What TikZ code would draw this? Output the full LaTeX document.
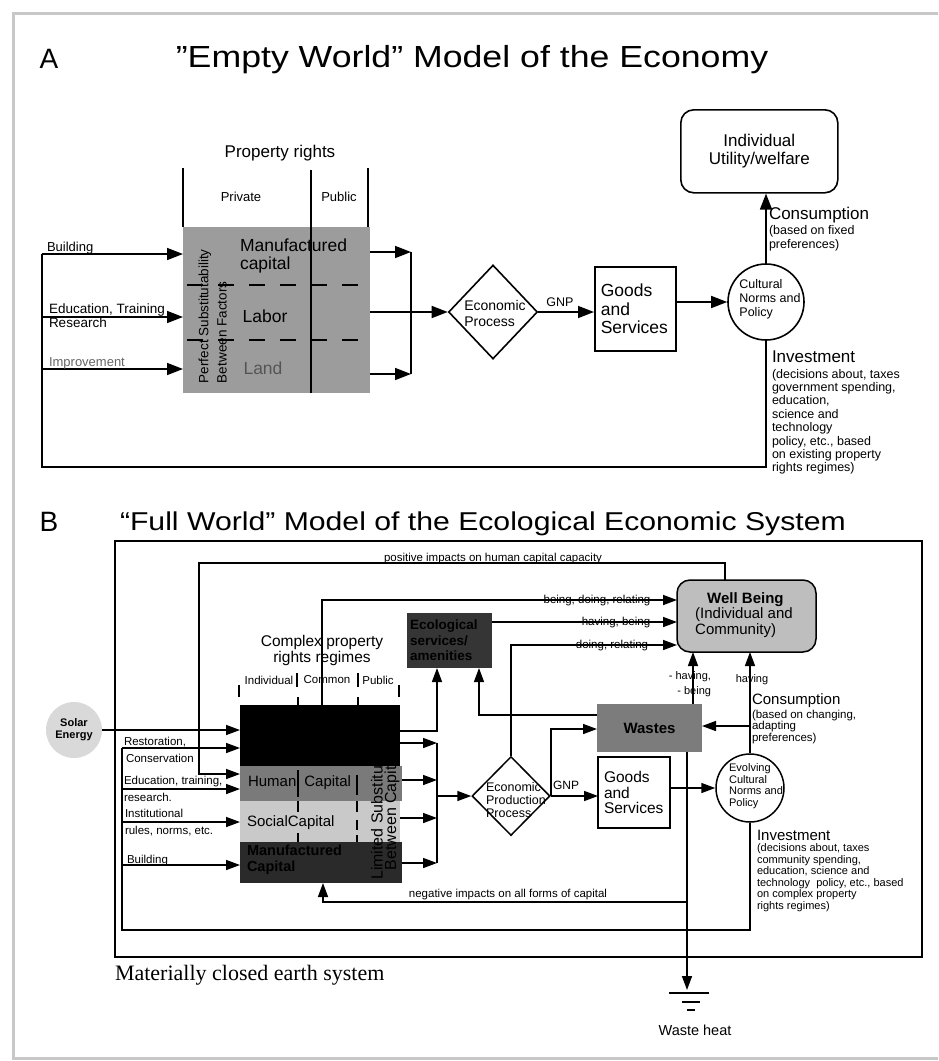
\documentclass[tikz,border=0pt]{standalone}
\usepackage{fontspec}
\setmainfont{Liberation Sans}
\newfontfamily\serifA{Liberation Serif}
\usetikzlibrary{arrows.meta,shapes.geometric,calc}
\newcommand\fsz[2]{\fontsize{#1}{#2}\selectfont}
\definecolor{frameG}{HTML}{C8C8C8}
\definecolor{boxA}{HTML}{9C9C9C}
\definecolor{landG}{HTML}{555555}
\definecolor{impG}{HTML}{666666}
\definecolor{humG}{HTML}{7A7A7A}
\definecolor{socG}{HTML}{C9C9C9}
\definecolor{manG}{HTML}{2A2A2A}
\definecolor{ecoG}{HTML}{353535}
\definecolor{wasteG}{HTML}{7C7C7C}
\definecolor{wbG}{HTML}{BEBEBE}
\definecolor{solarG}{HTML}{D9D9D9}
\begin{document}
\begin{tikzpicture}[x=1pt,y=-1pt,
  lnA/.style={line width=1.6pt},
  arA/.style={line width=1.6pt,-{Triangle[length=16pt,width=12pt]}},
  lnB/.style={line width=1.5pt},
  arB/.style={line width=1.5pt,-{Triangle[length=14pt,width=10pt]}},
  txt/.style={inner sep=0pt,outer sep=0pt},
  blk/.style={anchor=north west,inner sep=0pt,outer sep=0pt}]
\useasboundingbox (0,0) rectangle (938,1061);
\fill[white] (0,0) rectangle (938,1061);
\draw[frameG,line width=3pt] (938,13) -- (13,13) -- (13,1058) -- (938,1058);

%% ---------------- Panel A ----------------
\node[txt,anchor=base,font=\fsz{28}{30}] (A) at (49,68) {A};
\node[txt,anchor=base,font=\fsz{30.5}{32}] (Atitle) at (472,67) {\scalebox{1.17}[1]{"Empty World" Model of the Economy}};
\node[txt,font=\fsz{17}{19}] (proprights) at (280,153) {Property rights};
\node[txt,font=\fsz{13}{15}] (private) at (241,197) {Private};
\node[txt,font=\fsz{13}{15}] (public) at (339,197) {Public};
\node[blk,fill=boxA,minimum width=187pt,minimum height=166pt] (Abox) at (183,227) {};
\draw[lnA] (183,168) -- (Abox.north west);
\draw[lnA] (368,168) -- (368,227);
\draw[lnA] (311,170) -- (311,393);
\draw[line width=2pt,dash pattern=on 16pt off 15pt] (187,285) -- (370,285);
\draw[line width=2pt,dash pattern=on 16pt off 15pt] (187,340) -- (370,340);
\node[txt,anchor=west,align=left,font=\fsz{17.5}{18}] (mancap) at (240,256) {Manufactured\\capital};
\node[txt,font=\fsz{17.5}{19}] (labor) at (265,316) {Labor};
\node[txt,font=\fsz{17.5}{19},text=landG] (land) at (263,368) {Land};
\node[txt,rotate=90,anchor=west,font=\fsz{13.5}{15}] (perfect) at (205,383) {Perfect Substitutability};
\node[txt,rotate=90,anchor=west,font=\fsz{13.5}{15}] (between) at (222,383) {Between Factors};

% inputs
\coordinate (Atop) at (42,254);
\coordinate (Ain2) at (42,317);
\coordinate (Ain3) at (42,369);
\coordinate (Abot) at (42,467);
\draw[arA] (Atop) -- (Abox.west |- Atop);
\draw[arA] (Ain2) -- (Abox.west |- Ain2);
\draw[arA] (Ain3) -- (Abox.west |- Ain3);
\node[txt,anchor=base west,font=\fsz{13}{15}] (bld) at (47,251) {Building};
\node[txt,anchor=base west,font=\fsz{13.5}{15}] (edu) at (49,313) {Education, Training};
\node[txt,anchor=base west,font=\fsz{13.5}{15}] (res) at (49,327) {Research};
\node[txt,anchor=base west,font=\fsz{13}{15},text=impG] (imp) at (49,366) {Improvement};

% outputs
\node[draw,lnA,diamond,minimum width=89pt,minimum height=94pt,inner sep=0pt] (Adia) at (493,312) {};
\node[txt,align=left,font=\fsz{14}{16}] (Adiat) at (495,313) {Economic\\Process};
\coordinate (Abar1) at (411,252);
\coordinate (Abar2) at (411,374);
\draw[arA] (Abox.east |- Abar1) -- (Abar1);
\draw[arA] (Abox.east |- Abar2) -- (Abar2);
\draw[lnA] (Abar1) -- (Abar2);
\draw[arA] (Abox.east |- Adia.west) -- (Adia.west);

\node[draw,lnA,anchor=north west,minimum width=81pt,minimum height=84pt,inner sep=3pt,
  text width=69pt,align=left,font=\fsz{17.5}{18.3}] (Agoods) at (594,266) {Goods\\and\\Services};
\node[txt,font=\fsz{12.5}{14}] (gnpA) at (560,302) {GNP};
\draw[arA] (Adia.east) -- (Agoods.west |- Adia.east);

\node[draw,lnA,circle,minimum size=76pt,inner sep=0pt] (Acirc) at (766,302) {};
\node[txt,align=left,font=\fsz{12.5}{14}] (Acirct) at (770,299) {Cultural\\Norms and\\Policy};
\draw[arA] (Agoods.east |- Acirc.west) -- (Acirc.west);

\node[draw,lnA,rounded corners=13pt,anchor=north west,minimum width=157pt,minimum height=83pt,
  align=center,font=\fsz{17}{17.7}] (util) at (680,109) {Individual\\Utility/welfare};
\draw[arA] (Acirc.north) -- (Acirc.north |- util.south);
\node[txt,anchor=west,font=\fsz{17}{19}] (Acons) at (769,215) {Consumption};
\node[txt,anchor=north west,align=left,font=\fsz{12.5}{14}] (Aconsd) at (769,225) {(based on fixed\\preferences)};

\draw[lnA] (Acirc.south) -- (Acirc.south |- Abot) -- (Abot) -- (Atop);
\node[txt,anchor=west,font=\fsz{17}{19}] (Ainv) at (772,357) {Investment};
\node[txt,anchor=north west,align=left,font=\fsz{12.5}{13.4}] (Ainvd) at (772,369)
  {(decisions about, taxes\\government spending,\\education,\\science and\\technology\\policy, etc., based\\on existing property\\rights regimes)};

%% ---------------- Panel B ----------------
\node[txt,anchor=base,font=\fsz{28}{30}] (B) at (49,531) {B};
\node[txt,anchor=base west,font=\fsz{25.8}{28}] (Btitle) at (120,530) {\scalebox{1.17}[1]{“Full World” Model of the Ecological Economic System}};
\node[blk,draw,line width=2.3pt,minimum width=807pt,minimum height=416pt] (earth) at (115,541) {};
\node[txt,anchor=west,font=\serifA\fsz{22}{24}] (earthlbl) at (115,975) {Materially closed earth system};

% capital block
\node[blk,fill=black,minimum width=160pt,minimum height=61pt] (nat) at (240,705) {};
\node[blk,fill=humG,minimum width=162pt,minimum height=35pt] (hum) at (240,766) {};
\node[blk,fill=socG,minimum width=160pt,minimum height=41pt] (soc) at (240,801) {};
\node[blk,fill=manG,minimum width=162pt,minimum height=41pt] (man) at (240,842) {};
\node[txt,anchor=west,font=\fsz{15}{17}] (humt) at (248,783) {Human\hspace{8pt}Capital};
\node[txt,anchor=west,font=\fsz{15}{17}] (soct) at (247,823) {SocialCapital};
\node[txt,anchor=north west,align=left,font=\bfseries\fsz{14.5}{16},text=black] (mant) at (247,845) {Manufactured\\Capital};
\node[txt,rotate=90,font=\fsz{16}{18}] (limsub) at (377,810) {Limited Substitution};
\node[txt,rotate=90,font=\fsz{16}{18}] (betcap) at (392,812) {Between Capital};

\node[txt,font=\fsz{15.5}{16},align=center] (cprr) at (322,650) {Complex property\\rights regimes};
\node[txt,font=\fsz{11.5}{13}] (indiv) at (269,680) {Individual};
\node[txt,font=\fsz{11.5}{13}] (common) at (327,680) {Common};
\node[txt,font=\fsz{11.5}{13}] (publicB) at (378,680) {Public};
\begin{scope}[line width=1.2pt]
\draw (297,673) -- (297,687);
\draw (358,673) -- (358,687);
\draw (239,685) -- (239,697);
\draw (399,685) -- (399,697);
\draw (298,697) -- (298,705);
\draw (358,697) -- (358,705);
\draw (298,770) -- (298,797);
\draw (298,801) -- (298,812);
\draw (298,833) -- (298,842);
\draw (357,775) -- (357,795);
\draw (357,801) -- (357,812);
\draw (357,820) -- (357,830);
\draw (357,835) -- (357,842);
\end{scope}

% solar
\node[circle,fill=solarG,minimum size=56pt,inner sep=0pt,align=center,font=\bfseries\fsz{11}{12}] (solar) at (74,730) {Solar\\Energy};
\draw[arB] (solar.east) -- (nat.west |- solar.east);

% inputs
\coordinate (Bin1) at (122,748);
\coordinate (Bin2) at (122,789);
\coordinate (Bin3) at (122,822);
\coordinate (Bin4) at (122,865);
\coordinate (Bbot) at (122,930);
\draw[arB] (Bin1) -- (nat.west |- Bin1);
\draw[arB] (Bin2) -- (hum.west |- Bin2);
\draw[arB] (Bin3) -- (soc.west |- Bin3);
\draw[arB] (Bin4) -- (man.west |- Bin4);
\node[txt,anchor=base west,font=\fsz{11.5}{13}] (rest) at (124,745) {Restoration,};
\node[txt,anchor=base west,font=\fsz{11.5}{13}] (cons) at (126,762) {Conservation};
\node[txt,anchor=base west,font=\fsz{11.5}{13}] (eduB) at (124,784) {Education, training,};
\node[txt,anchor=base west,font=\fsz{11.5}{13}] (resB) at (124,801) {research.};
\node[txt,anchor=base west,font=\fsz{11.5}{13}] (inst) at (125,817) {Institutional};
\node[txt,anchor=base west,font=\fsz{11.5}{13}] (rules) at (125,834) {rules, norms, etc.};
\node[txt,anchor=base west,font=\fsz{11.5}{13}] (bldB) at (127,863) {Building};

% well being
\node[blk,draw,lnB,fill=wbG,rounded corners=13pt,minimum width=139pt,minimum height=72pt] (WB) at (677,580) {};
\node[txt,align=left,font=\fsz{15}{15.5}] (WBt) at (744,615) {\hspace*{12pt}\textbf{Well Being}\\(Individual and\\Community)};

% positive impacts
\coordinate (pi1) at (725,563);
\coordinate (pi2) at (199,563);
\coordinate (pi3) at (199,774);
\draw[arB] (pi1 |- WB.north) -- (pi1) -- (pi2) -- (pi3) -- (hum.west |- pi3);
\node[txt,anchor=base,font=\fsz{11.5}{13}] (pitxt) at (493,561) {positive impacts on human capital capacity};

% ecological services
\node[blk,fill=ecoG,minimum width=85pt,minimum height=55pt,inner sep=3pt,text width=79pt,align=left,
  text=black,font=\bfseries\fsz{13.5}{15.5}] (eco) at (407,613) {Ecological\\services/\\amenities};

% wastes
\node[blk,fill=wasteG,minimum width=105pt,minimum height=48pt,font=\bfseries\fsz{15}{17}] (wastes) at (597,704) {Wastes};

% production
\node[draw,lnB,diamond,minimum width=78pt,minimum height=79pt,inner sep=0pt] (Bdia) at (511,796) {};
\node[txt,align=left,font=\fsz{12.5}{13}] (Bdiat) at (516,800) {Economic\\Production\\Process};

% being, doing, relating
\coordinate (bdr) at (322,600);
\draw[arB] (nat.north -| bdr) -- (bdr) -- (WB.west |- bdr);
\node[txt,font=\fsz{11.5}{13}] (bdrt) at (597,601) {being, doing, relating};
\coordinate (hb) at (492,622);
\draw[arB] (eco.east |- hb) -- (WB.west |- hb);
\node[txt,font=\fsz{11.5}{13}] (hbt) at (616,623) {having, being};
\coordinate (dr) at (511,645);
\draw[arB] (Bdia.north) -- (dr) -- (WB.west |- dr);
\node[txt,font=\fsz{11.5}{13}] (drt) at (612,646) {doing, relating};

% to eco services
\coordinate (e1) at (437,731);
\draw[arB] (nat.east |- e1) -- (e1) -- (e1 |- eco.south);
\coordinate (e2) at (479,715);
\draw[arB] (wastes.west |- e2) -- (e2) -- (e2 |- eco.south);

% capital outputs
\coordinate (bar1) at (437,743);
\coordinate (bar2) at (437,780);
\coordinate (bar3) at (437,818);
\coordinate (bar4) at (437,863);
\coordinate (barm) at (437,796);
\draw[arB] (nat.east |- bar1) -- (bar1);
\draw[arB] (hum.east |- bar2) -- (bar2);
\draw[arB] (soc.east |- bar3) -- (bar3);
\draw[arB] (man.east |- bar4) -- (bar4);
\draw[lnB] (bar1) -- (bar4);
\draw[arB] (barm) -- (Bdia.west);

% goods and services
\node[blk,draw,lnB,minimum width=72pt,minimum height=71pt,inner sep=3pt,text width=60pt,align=left,
  font=\fsz{15.5}{15.3}] (Bgoods) at (598,757) {Goods\\and\\Services};
\node[txt,font=\fsz{12}{14}] (gnpB) at (566,785) {GNP};
\draw[arB] (Bdia.east) -- (Bgoods.west |- Bdia.east);
\coordinate (gb) at (551,729);
\draw[arB] (Bdia.east -| gb) -- (gb) -- (wastes.west |- gb);

% evolving norms
\node[draw,lnB,circle,minimum size=68pt,inner sep=0pt] (Bcirc) at (750,788) {};
\node[txt,align=left,font=\fsz{11}{11.7}] (Bcirct) at (756,786) {Evolving\\Cultural\\Norms and\\Policy};
\draw[arB] (Bgoods.east |- Bcirc.west) -- (Bcirc.west);

% arrows into well being
\coordinate (wx) at (693,0);
\draw[arB] (wastes.north -| wx) -- (WB.south -| wx);
\draw[arB] (Bcirc.north) -- (Bcirc.north |- WB.south);
\coordinate (cw) at (750,726);
\draw[arB] (cw) -- (wastes.east |- cw);
\node[txt,anchor=east,font=\fsz{11}{13}] (hav1) at (711,677) {- having,};
\node[txt,anchor=east,font=\fsz{11}{13}] (bei1) at (711,692) {- being};
\node[txt,font=\fsz{11}{13}] (hav2) at (752,680) {having};
\node[txt,anchor=west,font=\fsz{15}{17}] (Bcons) at (752,701) {Consumption};
\node[txt,anchor=north west,align=left,font=\fsz{11.5}{11.5}] (Bconsd) at (752,710) {(based on changing,\\adapting\\preferences)};

% investment loop
\draw[lnB] (Bcirc.south) -- (Bcirc.south |- Bbot) -- (Bbot) -- (Bin1);
\node[txt,anchor=west,font=\fsz{15}{17}] (Binv) at (757,835) {Investment};
\node[txt,anchor=north west,align=left,font=\fsz{11}{11.5}] (Binvd) at (757,844)
  {(decisions about, taxes\\community spending,\\education, science and\\technology\ \ policy, etc., based\\on complex property\\rights regimes)};

% waste heat
\coordinate (wh) at (687,990);
\draw[arB] (wastes.south -| wh) -- (wh);
\draw[line width=1.8pt] (669,993) -- (709,993);
\draw[line width=1.8pt] (682,1002) -- (700,1002);
\draw[line width=1.8pt] (687,1010) -- (695,1010);
\node[txt,font=\fsz{14.5}{16}] (wheat) at (695,1030) {Waste heat};

% negative impacts
\coordinate (ni) at (687,902);
\coordinate (ni2) at (323,902);
\draw[arB] (ni) -- (ni2) -- (ni2 |- man.south);
\node[txt,font=\fsz{11.5}{13}] (nit) at (508,895) {negative impacts on all forms of capital};
\end{tikzpicture}
\end{document}
